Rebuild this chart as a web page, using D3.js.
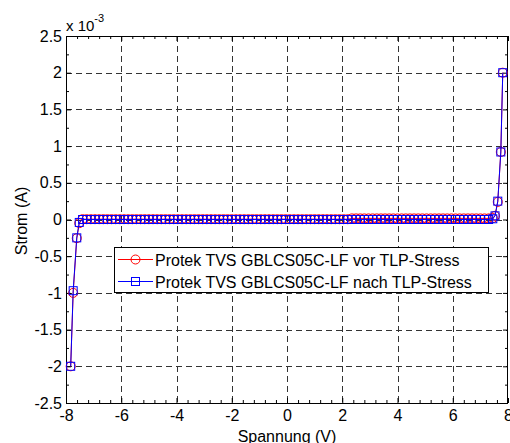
<!DOCTYPE html>
<html lang="de">
<head>
    <meta charset="utf-8">
    <title>TVS TLP</title>
    <script type="text/javascript" src="https://cdn.jsdelivr.net/npm/d3@7"></script>
    <style>
        body { margin: 0; background: #fff; }
        text { font-family: Arial, "Liberation Sans", sans-serif; }
    </style>
</head>
<body>
<script type="text/javascript">
    // Spannung in V (same measuring points for both curves)
    var spannung = [
        -7.83, -7.74, -7.61, -7.52,
        -7.40, -7.25, -7.10, -6.95, -6.80, -6.65, -6.50, -6.35, -6.20, -6.05,
        -5.90, -5.75, -5.60, -5.45, -5.30, -5.15, -5.00, -4.85, -4.70, -4.55,
        -4.40, -4.25, -4.10, -3.95, -3.80, -3.65, -3.50, -3.35, -3.20, -3.05,
        -2.90, -2.75, -2.60, -2.45, -2.30, -2.15, -2.00, -1.85, -1.70, -1.55,
        -1.40, -1.25, -1.10, -0.95, -0.80, -0.65, -0.50, -0.35, -0.20, -0.05,
        0.10, 0.25, 0.40, 0.55, 0.70, 0.85, 1.00, 1.15, 1.30, 1.45,
        1.60, 1.75, 1.90, 2.05, 2.20, 2.35, 2.50, 2.65, 2.80, 2.95,
        3.10, 3.25, 3.40, 3.55, 3.70, 3.85, 4.00, 4.15, 4.30, 4.45,
        4.60, 4.75, 4.90, 5.05, 5.20, 5.35, 5.50, 5.65, 5.80, 5.95,
        6.10, 6.25, 6.40, 6.55, 6.70, 6.85, 7.00, 7.15, 7.30, 7.45,
        7.53, 7.63, 7.74, 7.81
    ];
    // Strom in 10^-3 A
    var stromVor = [
        -2.00, -1.00, -0.255, -0.05,
        0.004, 0.004, 0.004, 0.004, 0.004, 0.004, 0.004, 0.004, 0.004, 0.004,
        0.004, 0.004, 0.004, 0.004, 0.004, 0.004, 0.004, 0.004, 0.004, 0.004,
        0.004, 0.004, 0.004, 0.004, 0.004, 0.004, 0.004, 0.004, 0.004, 0.004,
        0.004, 0.004, 0.004, 0.004, 0.004, 0.004, 0.004, 0.004, 0.004, 0.004,
        0.004, 0.004, 0.004, 0.004, 0.004, 0.004, 0.004, 0.004, 0.004, 0.004,
        0.004, 0.004, 0.004, 0.004, 0.004, 0.004, 0.004, 0.004, 0.004, 0.004,
        0.004, 0.004, 0.004, 0.004, 0.004, 0.015, 0.015, 0.015, 0.015, 0.015,
        0.015, 0.015, 0.015, 0.015, 0.015, 0.015, 0.015, 0.015, 0.015, 0.015,
        0.015, 0.015, 0.015, 0.015, 0.015, 0.015, 0.015, 0.015, 0.015, 0.015,
        0.015, 0.015, 0.015, 0.015, 0.015, 0.015, 0.015, 0.015, 0.015, 0.02,
        0.05, 0.24, 0.92, 2.00
    ];
    var stromNach = [
        -2.00, -0.97, -0.25, -0.04,
        0, 0, 0, 0, 0, 0, 0, 0, 0, 0,
        0, 0, 0, 0, 0, 0, 0, 0, 0, 0,
        0, 0, 0, 0, 0, 0, 0, 0, 0, 0,
        0, 0, 0, 0, 0, 0, 0, 0, 0, 0,
        0, 0, 0, 0, 0, 0, 0, 0, 0, 0,
        0, 0, 0, 0, 0, 0, 0, 0, 0, 0,
        0, 0, 0, 0, 0, 0, 0, 0, 0, 0,
        0, 0, 0, 0, 0, 0, 0, 0, 0, 0,
        0, 0, 0, 0, 0, 0, 0, 0, 0, 0,
        0, 0, 0, 0, 0, 0, 0, 0, 0, 0.01,
        0.05, 0.25, 0.92, 2.00
    ];
    var xTicks = [-8, -6, -4, -2, 0, 2, 4, 6, 8];
    var yTicks = [-2.5, -2, -1.5, -1, -0.5, 0, 0.5, 1, 1.5, 2, 2.5];
    var xMinor = [-7.6, -7.2, -6.8, -6.4, -5.6, -5.2, -4.8, -4.4, -3.6, -3.2, -2.8, -2.4,
        -1.6, -1.2, -0.8, -0.4, 0.4, 0.8, 1.2, 1.6, 2.4, 2.8, 3.2, 3.6,
        4.4, 4.8, 5.2, 5.6, 6.4, 6.8, 7.2, 7.6];
    var yMinor = [-2.25, -1.75, -1.25, -0.75, -0.25, 0.25, 0.75, 1.25, 1.75, 2.25];
    var legendLabels = ["Protek TVS GBLCS05C-LF vor TLP-Stress",
        "Protek TVS GBLCS05C-LF nach TLP-Stress"];

    var w = 510;
    var h = 443;
    var pLeft = 66, pRight = 508, pTop = 36, pBottom = 403;

    var xScale = d3.scaleLinear().domain([-8, 8]).range([pLeft, pRight]);
    var yScale = d3.scaleLinear().domain([-2.5, 2.5]).range([pBottom, pTop]);

    var svg = d3.select("body")
        .append("svg")
        .attr("width", w)
        .attr("height", h);

    // grid
    var grid = svg.append("g")
        .attr("stroke", "#333")
        .attr("stroke-width", 1)
        .attr("stroke-dasharray", "6,4")
        .attr("fill", "none");
    grid.selectAll("line.gx")
        .data(xTicks.slice(1, -1))
        .enter()
        .append("line")
        .attr("x1", function(d) { return Math.round(xScale(d)) + 0.5; })
        .attr("x2", function(d) { return Math.round(xScale(d)) + 0.5; })
        .attr("y1", pTop)
        .attr("y2", pBottom);
    grid.selectAll("line.gy")
        .data(yTicks.slice(1, -1))
        .enter()
        .append("line")
        .attr("y1", function(d) { return Math.round(yScale(d)) + 0.5; })
        .attr("y2", function(d) { return Math.round(yScale(d)) + 0.5; })
        .attr("x1", pLeft)
        .attr("x2", pRight);

    // axes: labels + major ticks inside
    function styleAxis(g) {
        g.select(".domain").remove();
        g.selectAll(".tick line").attr("stroke", "#000");
        g.selectAll("text")
            .attr("font-size", "16px")
            .attr("fill", "#000");
    }
    svg.append("g")
        .attr("transform", "translate(0," + pBottom + ")")
        .call(d3.axisBottom(xScale).tickValues(xTicks).tickSize(-5).tickPadding(7)
            .tickFormat(function(d) { return d; }))
        .call(styleAxis);
    svg.append("g")
        .attr("transform", "translate(" + pLeft + ",0)")
        .call(d3.axisLeft(yScale).tickValues(yTicks).tickSize(-5).tickPadding(4)
            .tickFormat(function(d) { return d; }))
        .call(styleAxis);
    svg.append("g")
        .attr("transform", "translate(0," + pTop + ")")
        .call(d3.axisTop(xScale).tickValues(xTicks).tickSize(-5).tickFormat(""))
        .call(styleAxis);
    svg.append("g")
        .attr("transform", "translate(" + pRight + ",0)")
        .call(d3.axisRight(yScale).tickValues(yTicks).tickSize(-5).tickFormat(""))
        .call(styleAxis);
    // minor ticks
    svg.append("g").attr("transform", "translate(0," + pBottom + ")")
        .call(d3.axisBottom(xScale).tickValues(xMinor).tickSize(-3).tickFormat("")).call(styleAxis);
    svg.append("g").attr("transform", "translate(0," + pTop + ")")
        .call(d3.axisTop(xScale).tickValues(xMinor).tickSize(-3).tickFormat("")).call(styleAxis);
    svg.append("g").attr("transform", "translate(" + pLeft + ",0)")
        .call(d3.axisLeft(yScale).tickValues(yMinor).tickSize(-3).tickFormat("")).call(styleAxis);
    svg.append("g").attr("transform", "translate(" + pRight + ",0)")
        .call(d3.axisRight(yScale).tickValues(yMinor).tickSize(-3).tickFormat("")).call(styleAxis);

    // frame
    svg.append("rect")
        .attr("x", pLeft + 0.5)
        .attr("y", pTop + 0.5)
        .attr("width", pRight - pLeft - 1)
        .attr("height", pBottom - pTop)
        .attr("fill", "none")
        .attr("stroke", "#000");

    // exponent
    var expo = svg.append("text")
        .attr("x", pLeft)
        .attr("y", 31)
        .attr("font-size", "15px");
    expo.append("tspan").text("x 10");
    expo.append("tspan").attr("font-size", "11px").attr("dy", -9).text("-3");

    // axis titles
    svg.append("text")
        .attr("x", xScale(0))
        .attr("y", 442)
        .attr("text-anchor", "middle")
        .attr("font-size", "16px")
        .text("Spannung (V)");
    svg.append("text")
        .attr("transform", "translate(27,221) rotate(-90)")
        .attr("text-anchor", "middle")
        .attr("font-size", "16px")
        .text("Strom (A)");

    // curves
    var series = [
        { values: stromVor, color: "#ff0000", marker: "circle" },
        { values: stromNach, color: "#0000ff", marker: "square" }
    ];
    var line = d3.line()
        .x(function(d) { return xScale(d[0]); })
        .y(function(d) { return yScale(d[1]); });

    function drawMarker(g, kind, color) {
        if (kind === "circle") {
            g.append("circle").attr("r", 4.5)
                .attr("fill", "none").attr("stroke", color);
        } else {
            g.append("rect").attr("x", -4).attr("y", -4)
                .attr("width", 8).attr("height", 8)
                .attr("fill", "none").attr("stroke", color);
        }
    }

    series.forEach(function(s) {
        var pts = spannung.map(function(v, i) { return [v, s.values[i]]; });
        svg.append("path")
            .datum(pts)
            .attr("d", line)
            .attr("fill", "none")
            .attr("stroke", s.color)
            .attr("stroke-width", 1);
        svg.append("g").selectAll("g")
            .data(pts)
            .enter()
            .append("g")
            .attr("transform", function(d) {
                return "translate(" + xScale(d[0]) + "," + yScale(d[1]) + ")";
            })
            .each(function() { drawMarker(d3.select(this), s.marker, s.color); });
    });

    // legend
    var lg = svg.append("g");
    lg.append("rect")
        .attr("x", 114.5).attr("y", 247.5)
        .attr("width", 374).attr("height", 45)
        .attr("fill", "#fff").attr("stroke", "#000");
    series.forEach(function(s, i) {
        var cy = 259.5 + i * 22;
        lg.append("line")
            .attr("x1", 118).attr("x2", 153)
            .attr("y1", cy).attr("y2", cy)
            .attr("stroke", s.color);
        var m = lg.append("g").attr("transform", "translate(135.5," + cy + ")");
        drawMarker(m, s.marker, s.color);
        lg.append("text")
            .attr("x", 155)
            .attr("y", cy + 6)
            .attr("font-size", "16px")
            .text(legendLabels[i]);
    });
</script>
</body>
</html>
